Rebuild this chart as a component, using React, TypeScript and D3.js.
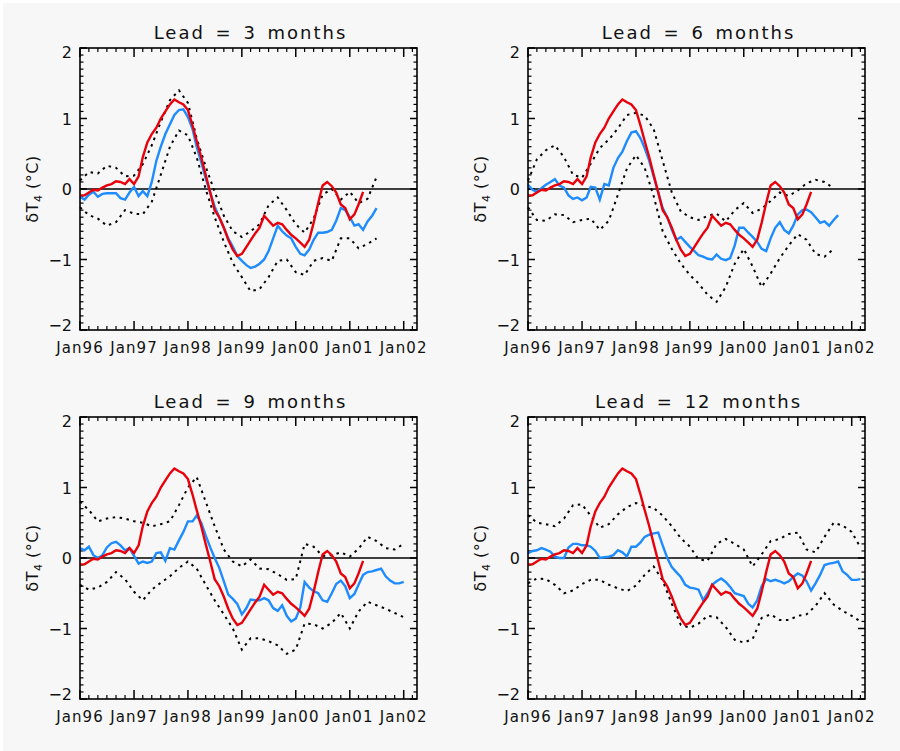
import React from 'react';
import * as d3 from 'd3';

// observed index (red) from Jan96, monthly
const observed = [-0.09, -0.09, -0.05, -0.01, -0.02, 0.02, 0.05, 0.07, 0.11, 0.10,
  0.07, 0.14, 0.07, 0.18, 0.45, 0.66, 0.78, 0.87, 1.0, 1.1,
  1.2, 1.27, 1.23, 1.2, 1.12, 0.9, 0.68, 0.45, 0.2, -0.05,
  -0.3, -0.4, -0.55, -0.72, -0.86, -0.95, -0.92, -0.82, -0.73, -0.63,
  -0.55, -0.38, -0.45, -0.52, -0.48, -0.5, -0.58, -0.65, -0.7, -0.76,
  -0.82, -0.72, -0.48, -0.2, 0.05, 0.1, 0.04, -0.05, -0.22, -0.27,
  -0.43, -0.36, -0.22, -0.04];

// forecasts (blue), monthly from Jan96
const fcLead3 = [-0.11, -0.15, -0.08, -0.04, -0.11, -0.07, -0.06, -0.06, -0.06, -0.13,
  -0.15, -0.05, 0.03, -0.1, -0.03, -0.1, 0.1, 0.4, 0.6, 0.78,
  0.92, 1.05, 1.12, 1.13, 1.02, 0.85, 0.6, 0.38, 0.15, -0.05,
  -0.25, -0.4, -0.55, -0.7, -0.82, -0.95, -1.02, -1.08, -1.12, -1.1,
  -1.06, -1.0, -0.88, -0.7, -0.52, -0.6, -0.66, -0.7, -0.82, -0.92,
  -0.94, -0.86, -0.72, -0.62, -0.62, -0.61, -0.58, -0.45, -0.27, -0.3,
  -0.4, -0.52, -0.5, -0.58, -0.46, -0.38, -0.27];
const fcLead6 = [0.06, -0.01, -0.04, 0.01, 0.06, 0.1, 0.14, 0.05, 0.02, -0.09,
  -0.14, -0.12, -0.16, -0.12, 0.03, 0.02, -0.15, 0.07, 0.05, 0.3,
  0.44, 0.53, 0.68, 0.8, 0.82, 0.72, 0.58, 0.4, 0.18, -0.05,
  -0.27, -0.4, -0.58, -0.72, -0.68, -0.75, -0.82, -0.88, -0.94, -0.96,
  -0.99, -1.0, -0.93, -0.99, -1.01, -0.98, -0.8, -0.55, -0.55, -0.62,
  -0.68, -0.75, -0.85, -0.88, -0.7, -0.55, -0.47, -0.58, -0.63, -0.52,
  -0.36, -0.3, -0.29, -0.33, -0.4, -0.48, -0.46, -0.52, -0.44, -0.37];
const fcLead9 = [0.14, 0.11, 0.16, 0.04, 0.0, 0.04, 0.15, 0.21, 0.23, 0.18,
  0.11, 0.14, 0.03, -0.08, -0.05, -0.07, -0.05, 0.07, 0.08, -0.04,
  0.14, 0.12, 0.25, 0.37, 0.52, 0.52, 0.6, 0.5, 0.32, 0.15,
  0.0, -0.14, -0.33, -0.52, -0.58, -0.65, -0.8, -0.71, -0.59, -0.6,
  -0.6, -0.57, -0.6, -0.71, -0.75, -0.67, -0.82, -0.9, -0.86, -0.7,
  -0.34, -0.42, -0.47, -0.5, -0.6, -0.62, -0.5, -0.37, -0.32, -0.4,
  -0.57, -0.51, -0.38, -0.24, -0.2, -0.19, -0.17, -0.15, -0.26, -0.32,
  -0.36, -0.36, -0.34];
const fcLead12 = [0.07, 0.1, 0.11, 0.14, 0.12, 0.09, 0.02, 0.0, 0.0, 0.15,
  0.2, 0.2, 0.18, 0.18, 0.16, 0.1, 0.0, 0.01, 0.02, 0.04,
  0.11, 0.08, 0.02, 0.16, 0.16, 0.22, 0.3, 0.33, 0.35, 0.36,
  0.18, 0.0, -0.13, -0.2, -0.27, -0.38, -0.42, -0.43, -0.45, -0.6,
  -0.5, -0.38, -0.33, -0.29, -0.34, -0.41, -0.5, -0.52, -0.54, -0.65,
  -0.7, -0.6, -0.4, -0.3, -0.33, -0.31, -0.33, -0.36, -0.33, -0.27,
  -0.22, -0.25, -0.33, -0.46, -0.36, -0.24, -0.1, -0.08, -0.07, -0.05,
  -0.19, -0.24, -0.31, -0.31, -0.3];

// error bounds (dotted), every 2 months from Jan96
const upLead3 = [0.12, 0.24, 0.22, 0.33, 0.3, 0.18, 0.19, 0.35, 0.62, 0.95,
  1.26, 1.4, 1.22, 0.72, 0.32, -0.04, -0.38, -0.6, -0.68, -0.6,
  -0.5, -0.23, -0.12, -0.3, -0.5, -0.62, -0.42, -0.08, 0.0, -0.15,
  -0.04, -0.2, -0.14, 0.17];
const loLead3 = [-0.26, -0.37, -0.42, -0.52, -0.47, -0.3, -0.35, -0.36, -0.18, 0.2,
  0.6, 0.83, 0.76, 0.45, 0.0, -0.4, -0.75, -1.05, -1.25, -1.45,
  -1.42, -1.25, -1.02, -1.0, -1.18, -1.22, -1.02, -0.98, -1.02, -0.7,
  -0.7, -0.84, -0.78, -0.7];
const upLead6 = [0.12, 0.42, 0.55, 0.62, 0.45, 0.2, 0.16, 0.36, 0.58, 0.7,
  0.86, 1.05, 1.08, 1.04, 0.85, 0.4, -0.05, -0.32, -0.4, -0.44,
  -0.38, -0.35, -0.46, -0.3, -0.2, -0.34, -0.28, -0.17, -0.05, -0.1,
  -0.02, 0.08, 0.13, 0.1, 0.01];
const loLead6 = [-0.26, -0.44, -0.45, -0.36, -0.37, -0.47, -0.44, -0.42, -0.58, -0.45,
  -0.08, 0.29, 0.48, 0.3, -0.1, -0.6, -0.85, -1.06, -1.22, -1.34,
  -1.5, -1.6, -1.39, -1.06, -0.85, -1.1, -1.39, -1.2, -0.98, -0.8,
  -0.64, -0.72, -0.92, -0.96, -0.85];
const upLead9 = [0.8, 0.68, 0.52, 0.56, 0.58, 0.56, 0.52, 0.5, 0.45, 0.48,
  0.52, 0.75, 1.0, 1.15, 0.8, 0.45, 0.12, -0.05, -0.12, -0.02,
  -0.15, -0.16, -0.23, -0.31, -0.3, 0.2, 0.16, 0.03, 0.04, 0.08,
  0.02, 0.13, 0.3, 0.24, 0.14, 0.12, 0.2];
const loLead9 = [-0.38, -0.45, -0.42, -0.34, -0.2, -0.3, -0.48, -0.6, -0.45, -0.35,
  -0.26, -0.14, -0.05, -0.15, -0.38, -0.6, -0.8, -1.0, -1.3, -1.14,
  -1.14, -1.18, -1.24, -1.36, -1.3, -0.93, -0.94, -1.0, -0.92, -0.78,
  -1.0, -0.76, -0.62, -0.67, -0.72, -0.78, -0.84];
const upLead12 = [0.61, 0.5, 0.48, 0.45, 0.56, 0.75, 0.76, 0.6, 0.43, 0.48,
  0.62, 0.72, 0.78, 0.74, 0.71, 0.6, 0.45, 0.28, 0.16, -0.02,
  -0.04, 0.2, 0.27, 0.2, 0.12, -0.12, 0.05, 0.24, 0.27, 0.34,
  0.36, 0.12, 0.08, 0.3, 0.5, 0.46, 0.37, 0.15];
const loLead12 = [-0.36, -0.29, -0.3, -0.38, -0.5, -0.46, -0.37, -0.31, -0.31, -0.38,
  -0.43, -0.47, -0.39, -0.24, -0.12, -0.32, -0.65, -0.95, -0.99, -0.93,
  -0.82, -0.84, -0.98, -1.16, -1.2, -1.15, -0.85, -0.8, -0.88, -0.88,
  -0.82, -0.8, -0.68, -0.5, -0.66, -0.75, -0.82, -0.9];

const leads = [3, 6, 9, 12];
const forecasts = [fcLead3, fcLead6, fcLead9, fcLead12];
const uppers = [upLead3, upLead6, upLead9, upLead12];
const lowers = [loLead3, loLead6, loLead9, loLead12];
const yTicks = [-2, -1, 0, 1, 2];

const start = new Date(Date.UTC(1996, 0, 1));
const end = new Date(Date.UTC(2002, 3, 1));
const FONT = '"DejaVu Sans", sans-serif';

const pw = 337;
const ph = 282;
const origins = [[80, 48], [528, 48], [80, 417], [528, 417]];

const x = d3.scaleUtc().domain([start, end]).range([0, pw]);
const y = d3.scaleLinear().domain([-2, 2]).range([ph, 0]);
const monthly = (step: number) => (v: number, i: number) => [x(d3.utcMonth.offset(start, i * step)), y(v)] as [number, number];
const line = d3.line<[number, number]>();

const Panel = ({ idx }: { idx: number }) => {
  const [ox, oy] = origins[idx];
  const years = d3.utcYear.range(start, end);
  const minorX = d3.utcMonth.every(2)!.range(start, end).filter(d => d.getUTCMonth() !== 0);
  const minorY = d3.range(-20, 21).map(d => d / 10).filter(d => !Number.isInteger(d));
  const fmt = d3.utcFormat('%b%y');
  return (
    <g transform={`translate(${ox},${oy})`}>
      <text x={pw / 2 + 2} y={-9} textAnchor="middle" fontFamily={FONT} fontSize={18} letterSpacing={2} wordSpacing={3} fill="#111">
        {`Lead = ${leads[idx]} months`}
      </text>
      {/* x ticks, inward on bottom and top */}
      {years.map(d => (
        <g key={+d}>
          <line x1={x(d)} x2={x(d)} y1={ph} y2={ph - 9} stroke="#000" strokeWidth={1.5} />
          <line x1={x(d)} x2={x(d)} y1={0} y2={9} stroke="#000" strokeWidth={1.5} />
          <text x={x(d)} y={ph + 23} textAnchor="middle" fontFamily={FONT} fontSize={15} letterSpacing={1.1} fill="#111">{fmt(d)}</text>
        </g>
      ))}
      {minorX.map(d => (
        <g key={+d}>
          <line x1={x(d)} x2={x(d)} y1={ph} y2={ph - 4} stroke="#000" strokeWidth={1.2} />
          <line x1={x(d)} x2={x(d)} y1={0} y2={4} stroke="#000" strokeWidth={1.2} />
        </g>
      ))}
      {/* y ticks */}
      {yTicks.map(v => (
        <g key={v}>
          <line x1={0} x2={7} y1={y(v)} y2={y(v)} stroke="#000" strokeWidth={1.5} />
          <line x1={pw} x2={pw - 7} y1={y(v)} y2={y(v)} stroke="#000" strokeWidth={1.5} />
          <text x={-8} y={y(v) + (v === -2 ? 1 : v === 2 ? 10 : 6)} textAnchor="end" fontFamily={FONT} fontSize={16} fill="#111">
            {v < 0 ? `\u2212${-v}` : v}
          </text>
        </g>
      ))}
      {minorY.map(v => (
        <g key={v}>
          <line x1={0} x2={3.5} y1={y(v)} y2={y(v)} stroke="#000" strokeWidth={1.2} />
          <line x1={pw} x2={pw - 3.5} y1={y(v)} y2={y(v)} stroke="#000" strokeWidth={1.2} />
        </g>
      ))}
      <text transform={`translate(-42,${y(0)}) rotate(-90)`} textAnchor="middle" fontFamily={FONT} fontSize={16} letterSpacing={0.5} fill="#111">
        δT<tspan fontSize={11} dy={4}>4</tspan><tspan dy={-4}> (°C)</tspan>
      </text>
      <line x1={0} x2={pw} y1={y(0)} y2={y(0)} stroke="#000" strokeWidth={1.3} />
      <path d={line(uppers[idx].map(monthly(2))) || ''} fill="none" stroke="#000" strokeWidth={2} strokeDasharray="2.5,4.5" />
      <path d={line(lowers[idx].map(monthly(2))) || ''} fill="none" stroke="#000" strokeWidth={2} strokeDasharray="2.5,4.5" />
      <path d={line(forecasts[idx].map(monthly(1))) || ''} fill="none" stroke="#1e8cff" strokeWidth={2.4} />
      <path d={line(observed.map(monthly(1))) || ''} fill="none" stroke="#e8000b" strokeWidth={2.4} />
      <rect x={0} y={0} width={pw} height={ph} fill="none" stroke="#000" strokeWidth={1.6} />
    </g>
  );
};

export default function App() {
  return (
    <svg width={900} height={751} style={{ position: 'absolute', left: 0, top: 0, background: '#fff' }}>
      <rect x={3} y={3} width={897} height={748} fill="#f7f7f7" />
      {leads.map((_, i) => <Panel key={i} idx={i} />)}
    </svg>
  );
}
